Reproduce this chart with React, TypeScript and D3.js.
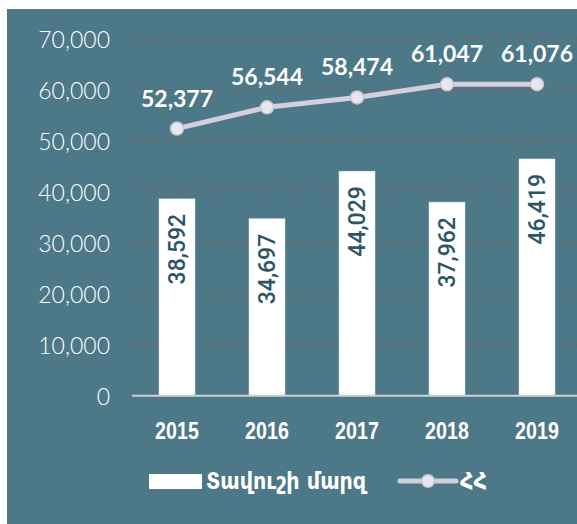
import React from "react";
import * as d3 from "d3";

const years = ["2015", "2016", "2017", "2018", "2019"];
const tavushValues = [38592, 34697, 44029, 37962, 46419];
const armeniaValues = [52377, 56544, 58474, 61047, 61076];
const yTicks = [0, 10000, 20000, 30000, 40000, 50000, 60000, 70000];
const legendBarLabel = "Տավուշի մարզ";
const legendLineLabel = "ՀՀ";

const W = 577;
const H = 524;

export default function App() {
  const x = d3.scaleBand<string>().domain(years).range([132, 582]).paddingInner(0.6).paddingOuter(0.3);
  const y = d3.scaleLinear().domain([0, 70000]).range([395.7, 38.7]);
  const fmt = d3.format(",");
  const line = d3
    .line<number>()
    .x((_, i) => (x(years[i]) as number) + x.bandwidth() / 2)
    .y((d) => y(d));

  const bg = "#4C7888";
  return (
    <svg width={W} height={H} style={{ position: "absolute", left: 0, top: 0 }}>
      <rect x={0} y={0} width={W} height={H} fill="#ffffff" />
      <rect x={7} y={9} width={W - 7} height={H - 9} fill={bg} />
      {/* gridlines */}
      {yTicks.filter((t) => t > 0).map((t) => (
        <line key={t} x1={132} x2={W} y1={y(t)} y2={y(t)} stroke="#6A6A6A" strokeWidth={2} strokeDasharray="7,4" />
      ))}
      {/* y labels */}
      {yTicks.map((t) => (
        <text
          key={"l" + t}
          x={110}
          y={y(t)}
          textAnchor="end"
          dominantBaseline="central"
          fill="#FFFFFF"
          fontFamily="Lato, 'Open Sans', sans-serif"
          fontWeight={300}
          fontSize={23}
        >
          {fmt(t)}
        </text>
      ))}
      {/* bars */}
      {tavushValues.map((v, i) => (
        <rect
          key={"b" + i}
          x={x(years[i])}
          y={y(v)}
          width={x.bandwidth()}
          height={y(0) - y(v)}
          fill="#ffffff"
          stroke="#D6E2E6"
          strokeWidth={0.5}
        />
      ))}
      {/* zero axis */}
      <line x1={132} x2={W} y1={y(0)} y2={y(0)} stroke="#D0D0D0" strokeWidth={2} />
      {/* bar labels */}
      {tavushValues.map((v, i) => {
        const cx = (x(years[i]) as number) + x.bandwidth() / 2;
        const ty = y(v) + 15;
        return (
          <text
            key={"bl" + i}
            transform={`translate(${cx},${ty}) rotate(-90)`}
            textAnchor="end"
            dominantBaseline="central"
            fill="#2E5566"
            fontFamily="Roboto, sans-serif"
            fontWeight={500}
            fontSize={23}
          >
            {fmt(v)}
          </text>
        );
      })}
      {/* x labels */}
      {years.map((yr) => (
        <text
          key={"x" + yr}
          transform={`translate(${(x(yr) as number) + x.bandwidth() / 2},439) scale(0.82,1)`}
          textAnchor="middle"
          fill="#ffffff"
          fontFamily="'Liberation Sans', Arial, sans-serif"
          fontWeight="bold"
          fontSize={24}
        >
          {yr}
        </text>
      ))}
      {/* line */}
      <path d={line(armeniaValues) || ""} fill="none" stroke="#D3CFDC" strokeWidth={5} />
      {armeniaValues.map((v, i) => {
        const cx = (x(years[i]) as number) + x.bandwidth() / 2;
        return (
          <g key={"p" + i}>
            <circle cx={cx} cy={y(v)} r={6.5} fill="#E8E6EE" stroke="#C9C5D2" strokeWidth={1.5} />
            <text
              x={cx}
              y={y(v) - 22}
              textAnchor="middle"
              fill="#ffffff"
              fontFamily="Lato, 'Open Sans', sans-serif"
              fontWeight={700}
              fontSize={23}
            >
              {fmt(v)}
            </text>
          </g>
        );
      })}
      {/* legend */}
      <rect x={149} y={474} width={53} height={15} fill="#ffffff" />
      <text
        transform="translate(206,481.5) scale(0.9,1)"
        dominantBaseline="central"
        fill="#ffffff"
        fontFamily="'DejaVu Sans', sans-serif"
        fontWeight="bold"
        fontSize={23}
      >
        {legendBarLabel}
      </text>
      <line x1={400} x2={456} y1={481} y2={481} stroke="#D3CFDC" strokeWidth={5} strokeLinecap="round" />
      <circle cx={428} cy={481} r={6.3} fill="#E8E6EE" stroke="#C9C5D2" strokeWidth={1.5} />
      <text
        transform="translate(460,481.5) scale(0.9,1)"
        dominantBaseline="central"
        fill="#ffffff"
        fontFamily="'DejaVu Sans', sans-serif"
        fontWeight="bold"
        fontSize={23}
      >
        {legendLineLabel}
      </text>
    </svg>
  );
}
